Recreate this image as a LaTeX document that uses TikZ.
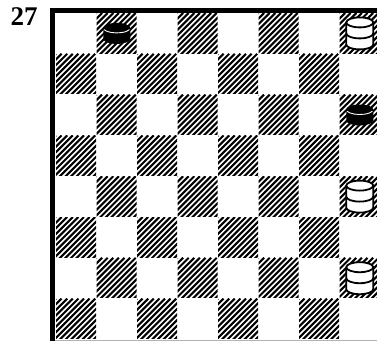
\documentclass[tikz,border=0pt]{standalone}
\usepackage{fontspec}
\setmainfont{Liberation Serif}
\usepackage{tikz}
\usetikzlibrary{calc}

\tikzset{
  rim/.style={line width=1.8pt},
  blackman/.pic={
    \fill (-13.5,-5.5) -- (-13.5,5.5) arc[start angle=180,end angle=0,x radius=13.5,y radius=5]
      -- (13.5,-5.5) arc[start angle=0,end angle=-180,x radius=13.5,y radius=5] -- cycle;
    \draw[white,line width=0.9pt] (0,-5.5) ++(160:13.5 and 5) arc[start angle=160,end angle=20,x radius=13.5,y radius=5];
  },
  whiteking/.pic={
    \fill[white] (-13.5,-11) -- (-13.5,11) arc[start angle=180,end angle=0,x radius=13.5,y radius=5]
      -- (13.5,-11) arc[start angle=0,end angle=-180,x radius=13.5,y radius=5] -- cycle;
    \draw[rim] (-13.5,-11) -- (-13.5,11) arc[start angle=180,end angle=0,x radius=13.5,y radius=5] -- (13.5,-11);
    \draw[rim] (0,-11) ellipse[x radius=13.5,y radius=5];
    \draw[rim] (-13.5,0) arc[start angle=180,end angle=0,x radius=13.5,y radius=5];
  }
}

\begin{document}
\begin{tikzpicture}[x=1pt,y=-1pt,
  hatch/.style={line width=2.1pt},
  frame/.style={line width=4.6pt},
  edge/.style={gray!60,line width=0.8pt}
]
\useasboundingbox (0,0) rectangle (377,341);
\node[font=\fontsize{27}{27}\selectfont\bfseries] (num) at (24,17) {27};
\begin{scope}
  \clip (0,0) rectangle (377,341);
  % dark squares
  \foreach \r in {1,...,8}{
    \foreach \i in {0,...,3}{
      \pgfmathsetmacro\cx{56+(2*\i+mod(\r,2))*40.5}
      \pgfmathsetmacro\cy{13+(\r-1)*40.8}
      \begin{scope}
        \clip (\cx,\cy) rectangle ++(40,40);
        \foreach \k in {0,5.6,...,90}
          \draw[hatch] (\cx+\k-45,\cy+45) -- (\cx+\k,\cy);
      \end{scope}
    }
  }
  \draw[edge] (52,340) -- (377,340);
  \draw[frame] (52.5,341) -- (52.5,10.3) -- (377,10.3);
\end{scope}
% pieces
\pic (b1) at (116.75,33.4) {blackman};
\pic (w1) at (359.75,33.4) {whiteking};
\pic (b2) at (359.75,115) {blackman};
\pic (w2) at (359.75,196.6) {whiteking};
\pic (w3) at (359.75,278.2) {whiteking};
\end{tikzpicture}
\end{document}
